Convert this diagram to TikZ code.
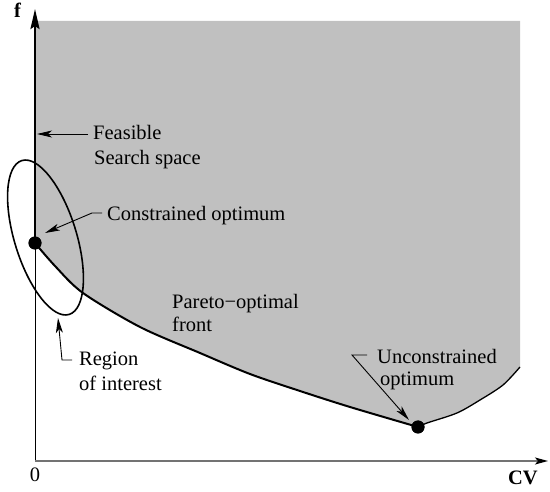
\documentclass[tikz,border=0pt]{standalone}
\usepackage{fontspec}
\setmainfont{Liberation Serif}
\usetikzlibrary{arrows.meta}
\definecolor{feasgray}{RGB}{192,192,192}
\begin{document}
\begin{tikzpicture}[x=1pt,y=-1pt,
  lbl/.style={font=\fontsize{20.5}{23}\selectfont, inner sep=0pt, anchor=base west},
  axlbl/.style={font=\fontsize{20.5}{23}\selectfont\bfseries, inner sep=0pt, anchor=base},
  dotnode/.style={circle, fill=black, minimum size=13pt, inner sep=0pt},
  pointer/.style={line width=0.9pt, -{Stealth[length=15pt,width=7pt,inset=4pt]}},
  front/.style={line width=2pt},
]
\useasboundingbox (0,0) rectangle (550,492);

% feasible region
\fill[feasgray] (35,21) -- (520,21) -- (520,367)
  -- plot[smooth] coordinates {(520,367) (503,385) (480,400) (457,413) (427,423) (418,427)}
  -- plot[smooth] coordinates {(418,427) (350,407) (300,391) (250,374) (200,353) (140,327) (83,293) (55,266) (35,243)}
  -- cycle;

% region of interest
\draw[line width=1.6pt, rotate around={-72.9:(45.5,237.5)}] (45.5,237.5) ellipse [x radius=80.5pt, y radius=31pt];

% named points
\coordinate (ytop) at (35,9);
\coordinate (O) at (35,461);
\coordinate (xend) at (548,461);
\node[dotnode] (copt) at (35,243) {};
\node[dotnode] (uopt) at (418,427) {};

% axes
\draw[line width=2.4pt, -{Stealth[length=20pt,width=9pt,inset=3pt]}] (copt.center) -- (ytop);
\draw[line width=0.9pt] (copt.center) -- (O);
\draw[black!55, line width=1.5pt, -{Stealth[length=13pt,width=7pt,inset=3pt,color=black]}] (O) -- (xend);

% fronts
\draw[front] plot[smooth] coordinates {(35,243) (55,266) (83,293) (140,327) (200,353) (250,374) (300,391) (350,407) (418,427)};
\draw[line width=1.3pt] plot[smooth] coordinates {(418,427) (427,423) (457,413) (480,400) (503,385) (520,367)};

\node[dotnode] at (copt) {};
\node[dotnode] at (uopt) {};

% labels
\node[axlbl] (flbl) at (17.5,18) {f};
\node[axlbl] (cvlbl) at (523,485) {CV};
\node[lbl, anchor=base] (zero) at (35,482) {0};

\node[lbl] (feas1) at (93,140) {Feasible};
\node[lbl] (feas2) at (94,165) {Search space};
\node[lbl] (cons) at (107,221) {Constrained optimum};
\node[lbl] (par1) at (172,309) {Pareto−optimal};
\node[lbl] (par2) at (172,332) {front};
\node[lbl] (reg1) at (79,366) {Region};
\node[lbl] (reg2) at (79,391) {of interest};
\node[lbl] (unc1) at (377,363) {Unconstrained};
\node[lbl] (unc2) at (380,385) {optimum};

% pointers
\coordinate (feasS) at (88,134);
\coordinate (feasE) at (37,134);
\draw[pointer] (feasS) -- (feasE);

\coordinate (consS) at (102,213);
\coordinate (consK) at (92,213);
\coordinate (consE) at (45,233);
\draw[pointer] (consS) -- (consK) -- (consE);

\coordinate (regS) at (72,360);
\coordinate (regK) at (62,360);
\coordinate (regE) at (58,318);
\draw[pointer] (regS) -- (regK) -- (regE);

\coordinate (uncS) at (367,355);
\coordinate (uncK) at (352,355);
\coordinate (uncE) at (409,420);
\draw[pointer] (uncS) -- (uncK) -- (uncE);
\end{tikzpicture}
\end{document}
